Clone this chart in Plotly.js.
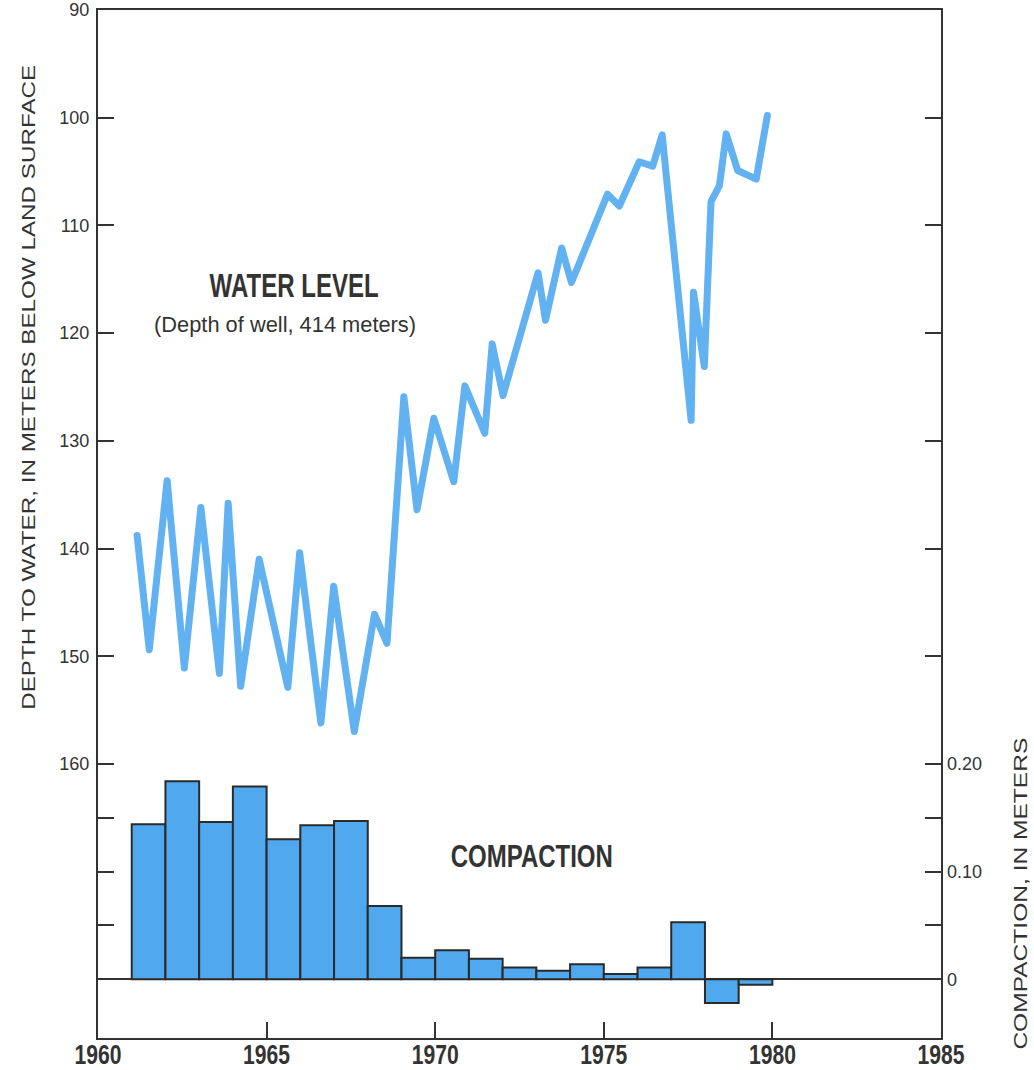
<!DOCTYPE html>
<html>
<head>
<meta charset="utf-8">
<script src="https://cdn.plot.ly/plotly-3.0.1.min.js"></script>
<style>
  html, body { margin: 0; padding: 0; background: #fff; }
  #chart { width: 1034px; height: 1070px; }
  .js-line { stroke-linejoin: round; stroke-linecap: round; }
</style>
</head>
<body>
<div id="chart"></div>
<script>
// Water level (depth to water, m below land surface)
const waterYears = [1961.16, 1961.52, 1962.05, 1962.56, 1963.05, 1963.60, 1963.86, 1964.23, 1964.78,
  1965.63, 1965.98, 1966.61, 1966.99, 1967.60, 1968.20, 1968.57, 1969.07, 1969.46, 1969.96, 1970.55,
  1970.88, 1971.47, 1971.69, 1972.01, 1973.05, 1973.27, 1973.75, 1974.04, 1975.11, 1975.46, 1976.05,
  1976.45, 1976.73, 1977.59, 1977.66, 1977.98, 1978.18, 1978.43, 1978.63, 1978.97, 1979.52, 1979.85];
const waterDepth = [138.8, 149.4, 133.7, 151.1, 136.2, 151.6, 135.8, 152.8, 141.0,
  152.9, 140.4, 156.2, 143.5, 157.0, 146.1, 148.8, 125.9, 136.4, 127.9, 133.8,
  124.9, 129.3, 121.0, 125.8, 114.4, 118.8, 112.1, 115.3, 107.1, 108.2, 104.1,
  104.5, 101.6, 128.1, 116.2, 123.1, 107.8, 106.3, 101.5, 104.9, 105.7, 99.8];

// Annual compaction (m), one bar per year starting at that year
const compYears = [1961, 1962, 1963, 1964, 1965, 1966, 1967, 1968, 1969, 1970,
  1971, 1972, 1973, 1974, 1975, 1976, 1977, 1978, 1979];
const compaction = [0.144, 0.184, 0.146, 0.179, 0.130, 0.143, 0.147, 0.068, 0.020, 0.027,
  0.019, 0.011, 0.008, 0.014, 0.005, 0.011, 0.053, -0.022, -0.005];

// Tick labels
const xTicks = [1960, 1965, 1970, 1975, 1980, 1985];
const depthTickVals = [90, 100, 110, 120, 130, 140, 150, 160, 165, 170, 175];
const depthTickText = ['90', '100', '110', '120', '130', '140', '150', '160', '', '', ''];
const compTickVals = [0, 0.1, 0.2];
const compTickText = ['0', '0.10', '0.20'];

const INK = '#333333';
const REG = 'Liberation Sans, Arial, Helvetica, sans-serif';

const traces = [
  {
    type: 'bar', x: compYears, y: compaction, yaxis: 'y2',
    width: 1, offset: 0,
    marker: { color: '#50a9ee', line: { color: '#2a2a2a', width: 2 } },
    hoverinfo: 'skip', showlegend: false
  },
  {
    type: 'scatter', mode: 'lines', x: waterYears, y: waterDepth, yaxis: 'y',
    line: { color: '#62b2f2', width: 7 },
    hoverinfo: 'skip', showlegend: false
  }
];

const layout = {
  width: 1034, height: 1070,
  margin: { l: 98, r: 93, t: 10, b: 32 },
  paper_bgcolor: '#ffffff', plot_bgcolor: '#ffffff',
  showlegend: false,
  bargap: 0,
  xaxis: {
    range: [1960, 1985], tickvals: xTicks, ticktext: xTicks.map(String),
    ticks: 'inside', ticklen: 16, tickwidth: 2, tickcolor: INK,
    showline: true, linecolor: INK, linewidth: 2, mirror: true,
    showgrid: false, zeroline: false, ticklabelstandoff: -8,
    tickfont: { family: REG, size: 27, color: INK, weight: 'bold' }
  },
  yaxis: {
    range: [185.45, 90], tickvals: depthTickVals, ticktext: depthTickText,
    ticks: 'inside', ticklen: 16, tickwidth: 2, tickcolor: INK,
    showline: true, linecolor: INK, linewidth: 2, mirror: 'ticks',
    showgrid: false, zeroline: false, ticklabelstandoff: 3,
    tickfont: { family: REG, size: 18, color: INK }
  },
  yaxis2: {
    overlaying: 'y', side: 'right',
    range: [-0.0545, 0.9], tickvals: compTickVals, ticktext: compTickText,
    ticks: '', showline: false, showgrid: false, ticklabelstandoff: 5,
    zeroline: true, zerolinecolor: INK, zerolinewidth: 2,
    tickfont: { family: REG, size: 18, color: INK }
  },
  annotations: [
    { text: 'DEPTH TO WATER, IN METERS BELOW LAND SURFACE', xref: 'paper', yref: 'paper',
      x: -0.083, y: 0.633, textangle: -90, showarrow: false, xanchor: 'center', yanchor: 'middle',
      font: { family: REG, size: 19, color: INK } },
    { text: 'COMPACTION, IN METERS', xref: 'paper', yref: 'paper',
      x: 1.094, y: 0.140, textangle: -90, showarrow: false, xanchor: 'center', yanchor: 'middle',
      font: { family: REG, size: 19, color: INK } },
    { text: 'WATER LEVEL', xref: 'x', yref: 'y', x: 1965.8, y: 115.6, showarrow: false,
      font: { family: REG, size: 33, color: INK, weight: 'bold' } },
    { text: '(Depth of well, 414 meters)', xref: 'x', yref: 'y', x: 1965.56, y: 119.2, showarrow: false,
      font: { family: REG, size: 22, color: INK } },
    { text: 'COMPACTION', xref: 'x', yref: 'y2', x: 1972.87, y: 0.114, showarrow: false,
      font: { family: REG, size: 31, color: INK, weight: 'bold' } }
  ]
};

// Condensed look of the original lettering: squeeze text to its measured width
const textWidths = {
  'DEPTH TO WATER, IN METERS BELOW LAND SURFACE': 645,
  'COMPACTION, IN METERS': 312,
  'WATER LEVEL': 169,
  '(Depth of well, 414 meters)': 262,
  'COMPACTION': 162
};
const yearLabelWidth = 47;

Plotly.newPlot('chart', traces, layout, { staticPlot: true, displayModeBar: false }).then(gd => {
  gd.querySelectorAll('text.annotation-text').forEach(t => {
    const w = textWidths[t.textContent];
    if (w) { t.setAttribute('textLength', w); t.setAttribute('lengthAdjust', 'spacingAndGlyphs'); }
  });
  gd.querySelectorAll('g.xtick text').forEach(t => {
    t.setAttribute('textLength', yearLabelWidth);
    t.setAttribute('lengthAdjust', 'spacingAndGlyphs');
  });
});
</script>
</body>
</html>
